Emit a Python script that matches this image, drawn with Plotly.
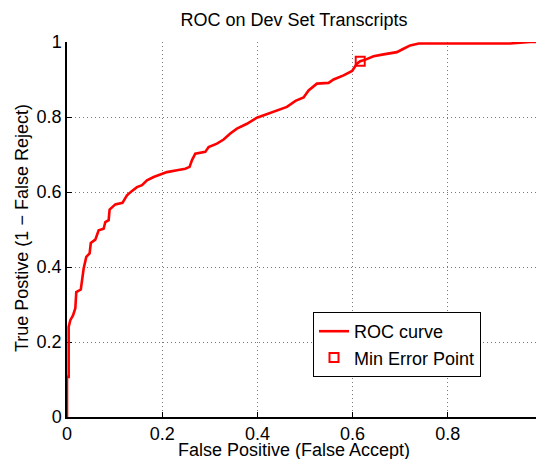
import plotly.graph_objects as go

fpr = [0, 0, 0.0035, 0.0035, 0.007, 0.0126, 0.0175, 0.0195, 0.029, 0.032, 0.035, 0.0405,
       0.0475, 0.050, 0.0595, 0.0665, 0.077, 0.0805, 0.0875, 0.0895, 0.1015, 0.1165, 0.126,
       0.1366, 0.147, 0.1576, 0.168, 0.182, 0.2, 0.21, 0.231, 0.2485, 0.2576, 0.2626, 0.2695,
       0.2905, 0.2975, 0.315, 0.329, 0.343, 0.357, 0.378, 0.399, 0.4235, 0.441, 0.462, 0.48,
       0.497, 0.5075, 0.525, 0.5496, 0.56, 0.581, 0.599, 0.609, 0.616, 0.627, 0.644, 0.665,
       0.693, 0.707, 0.721, 0.739, 0.931, 0.973, 1.0]
tpr = [0, 0.107, 0.107, 0.24, 0.258, 0.271, 0.29, 0.333, 0.34, 0.373, 0.396, 0.427,
       0.436, 0.464, 0.473, 0.498, 0.502, 0.52, 0.525, 0.553, 0.567, 0.571, 0.591,
       0.603, 0.613, 0.618, 0.631, 0.64, 0.649, 0.653, 0.658, 0.662, 0.667, 0.685, 0.702,
       0.707, 0.72, 0.729, 0.74, 0.756, 0.769, 0.782, 0.798, 0.809, 0.818, 0.827, 0.843,
       0.852, 0.871, 0.889, 0.891, 0.9, 0.911, 0.923, 0.942, 0.949, 0.953, 0.962, 0.967,
       0.973, 0.982, 0.991, 0.996, 0.996, 1.0, 1.0]
min_err_x = [0.616]
min_err_y = [0.949]
tick_vals = [0, 0.2, 0.4, 0.6, 0.8, 1]
tick_text = ["0", "0.2", "0.4", "0.6", "0.8", "1"]

FONT = "Liberation Sans, Arial, Helvetica, sans-serif"

# page body has an 8px default margin; plot area targeted at page px x 67..543, y 42..417
OFF = 8
W, H = 544 - OFF, 459 - OFF
L, T = 67 - OFF, 42 - OFF
PW, PH = 476, 375
R = W - L - PW
B = H - T - PH


def px_to_paper_x(px):
    return (px - 67) / PW


def px_to_paper_y(py):
    return (417 - py) / PH


fig = go.Figure()
fig.add_trace(go.Scatter(x=fpr, y=tpr, mode="lines", name="ROC curve",
                         line=dict(color="#ff0000", width=2.6)))
fig.add_trace(go.Scatter(x=min_err_x, y=min_err_y, mode="markers", name="Min Error Point",
                         marker=dict(symbol="square-open", size=9, color="#ff0000",
                                     line=dict(width=2, color="#ff0000"))))

axis_common = dict(range=[0, 1], tickvals=tick_vals, ticktext=tick_text,
                   showgrid=True, gridcolor="#7a7a7a", griddash="1px,3px", gridwidth=1,
                   showline=True, linecolor="black", linewidth=1.5,
                   ticks="inside", ticklen=5, tickcolor="black", tickwidth=1,
                   zeroline=False, layer="below traces", automargin=False,
                   ticklabeloverflow="allow",
                   tickfont=dict(family=FONT, size=18, color="black"))

fig.update_layout(
    width=W, height=H,
    margin=dict(l=L, r=R, t=T, b=B, autoexpand=False),
    paper_bgcolor="white", plot_bgcolor="white",
    font=dict(family=FONT, size=18, color="black"),
    title=dict(text="ROC on Dev Set Transcripts", x=(294 - OFF) / W, xanchor="center",
               y=1 - (20 - OFF) / H, yanchor="middle",
               font=dict(family=FONT, size=18, color="black")),
    xaxis=axis_common,
    yaxis=axis_common,
    showlegend=True,
    legend=dict(x=px_to_paper_x(313), y=px_to_paper_y(312), xanchor="left", yanchor="top",
                bgcolor="white", bordercolor="black", borderwidth=1,
                font=dict(family=FONT, size=18, color="black"),
                itemwidth=30, tracegroupgap=0),
    annotations=[
        dict(text="False Positive (False Accept)", xref="paper", yref="paper",
             x=px_to_paper_x(294), y=px_to_paper_y(450), xanchor="center", yanchor="middle",
             showarrow=False, font=dict(family=FONT, size=18, color="black")),
        dict(text="True Postive (1 \u2212 False Reject)", xref="paper", yref="paper",
             x=px_to_paper_x(22), y=px_to_paper_y(228), xanchor="center", yanchor="middle",
             textangle=-90, showarrow=False, font=dict(family=FONT, size=18, color="black")),
    ],
)

fig.write_html("out.html")
